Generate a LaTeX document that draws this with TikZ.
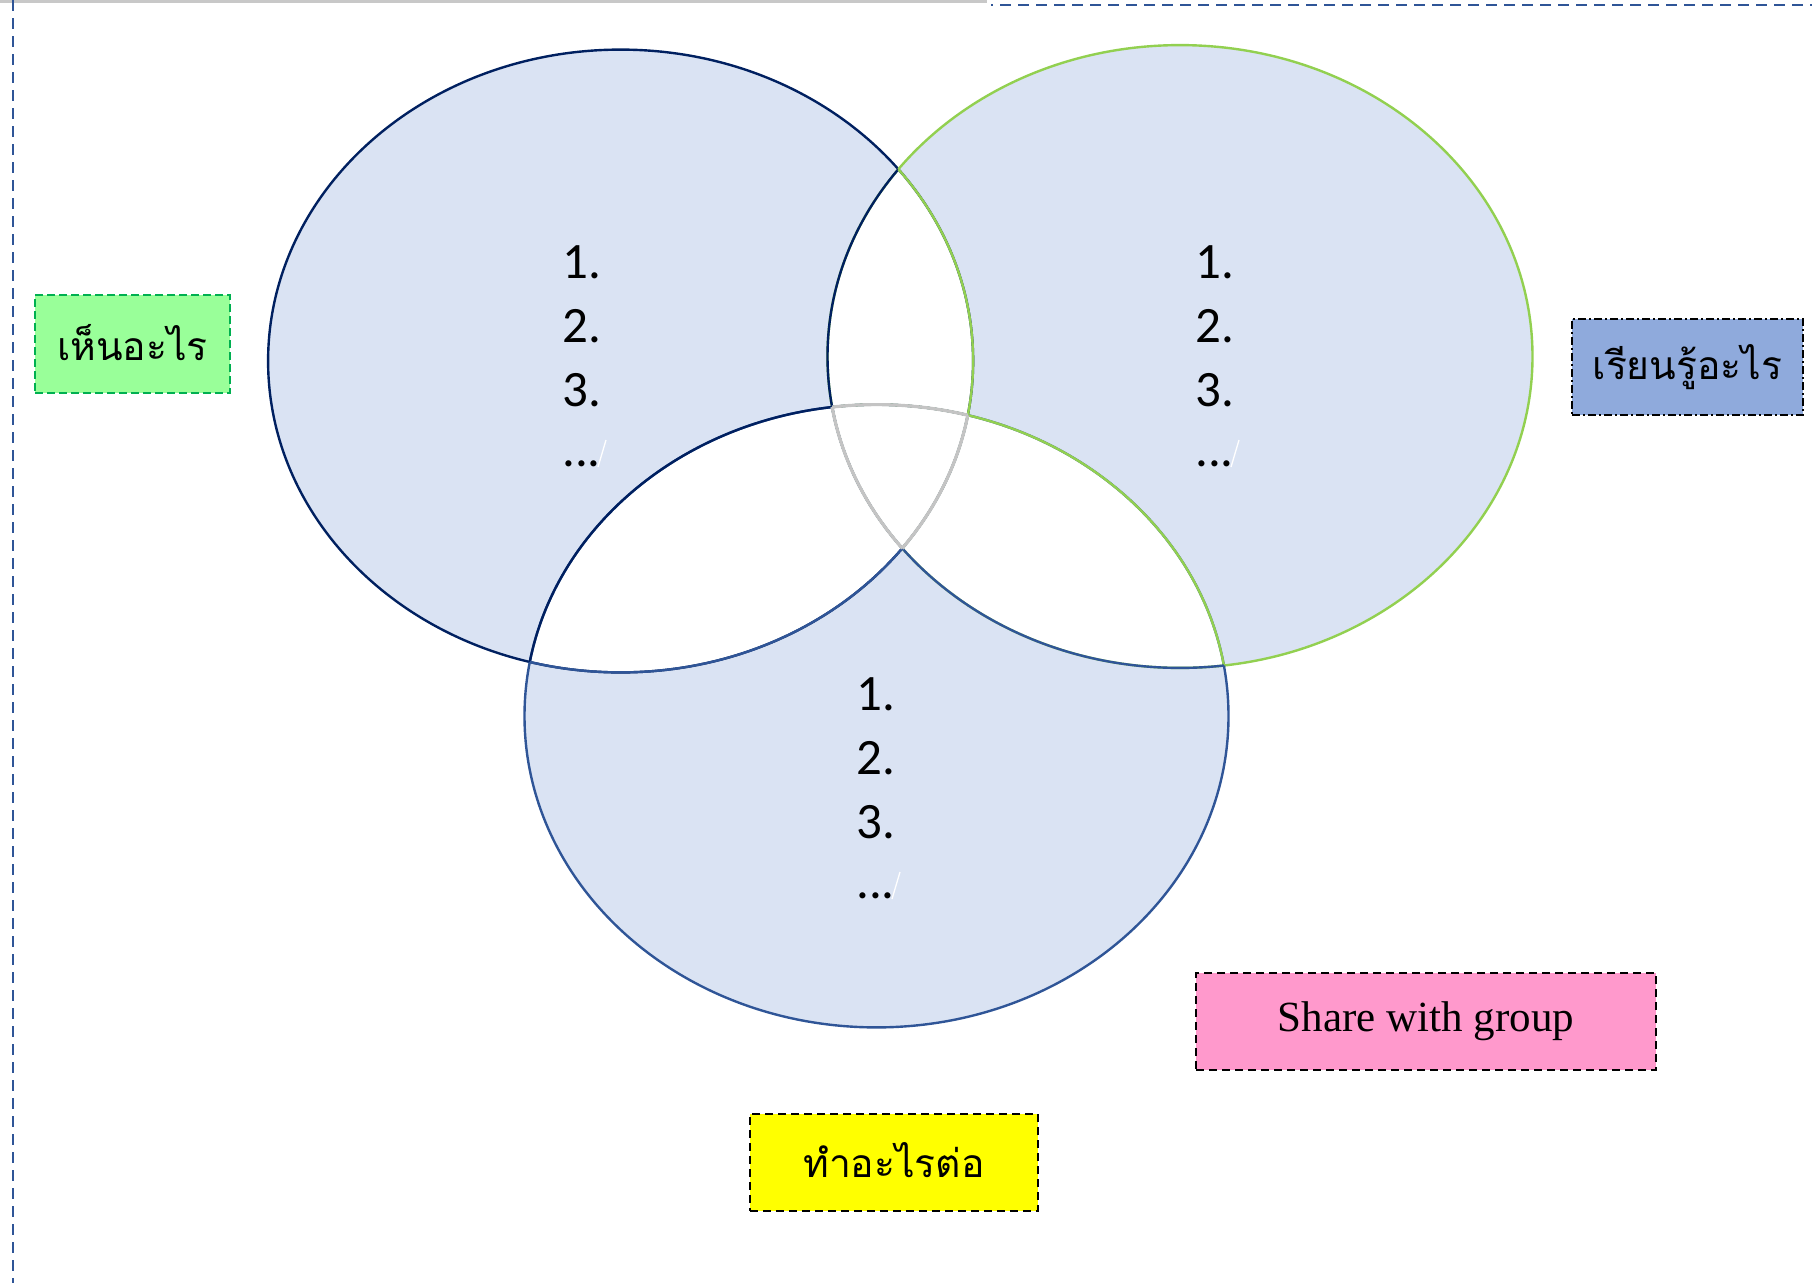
\documentclass[tikz,border=0pt]{standalone}
\usepackage{fontspec}
\newfontfamily\thaifont[Script=Thai]{Loma}
\newfontfamily\numfont{Carlito}
\newfontfamily\serifF{Liberation Serif}
\definecolor{fillc}{HTML}{DAE3F3}
\definecolor{navyc}{HTML}{002060}
\definecolor{bluec}{HTML}{2F5597}
\definecolor{greenc}{HTML}{92D050}
\definecolor{grayc}{HTML}{C4C4C4}
\definecolor{framec}{HTML}{2F5597}
\definecolor{topgray}{HTML}{C8C8C8}
\definecolor{gboxfill}{HTML}{99FF99}
\definecolor{gboxline}{HTML}{00B050}
\definecolor{bboxfill}{HTML}{8FAADC}
\definecolor{yboxfill}{HTML}{FFFF00}
\definecolor{pboxfill}{HTML}{FF99CC}
\def\EA{(620.6,361) ellipse [x radius=352.5pt, y radius=311.4pt]}
\def\EB{(1180,356.5) ellipse [x radius=352.5pt, y radius=311.4pt]}
\def\EC{(876.5,716) ellipse [x radius=352pt, y radius=311.4pt]}
\tikzset{
  ring/.style={line width=2.4pt},
  greyring/.style={line width=3.2pt, grayc},
  num/.style={font=\numfont\fontsize{51}{51}\selectfont, anchor=base west, inner sep=0pt},
  slash/.style={white, line width=1.3pt},
  labelbox/.style={inner sep=0pt, line width=2.6pt},
  thaitext/.style={font=\thaifont\fontsize{39}{39}\selectfont},
  gbox/.style={labelbox, thaitext, draw=gboxline, fill=gboxfill, dash pattern=on 8pt off 4pt,
    minimum width=195pt, minimum height=98pt},
  bbox/.style={labelbox, thaitext, draw=black, fill=bboxfill, dash pattern=on 8pt off 3pt on 2pt off 3pt,
    minimum width=231pt, minimum height=96pt},
  ybox/.style={labelbox, thaitext, draw=black, fill=yboxfill, dash pattern=on 8pt off 5pt,
    minimum width=288pt, minimum height=97pt},
  pbox/.style={labelbox, draw=black, fill=pboxfill, dash pattern=on 8pt off 5pt,
    minimum width=460pt, minimum height=97pt, font=\serifF\fontsize{43}{43}\selectfont},
}
\begin{document}
\begin{tikzpicture}[x=1pt,y=-1pt]
\useasboundingbox (0,0) rectangle (1812,1283);
% frame
\draw[topgray, line width=2.7pt] (0,1.3) -- (987,1.3);
\draw[framec, line width=2.3pt, dash pattern=on 11pt off 7pt] (13,0) -- (13,1283);
\draw[framec, line width=2.3pt, dash pattern=on 11pt off 7pt, dash phase=9pt] (991,5) -- (1812,5);
% fills
\fill[fillc] \EA;
\fill[fillc] \EB;
\fill[fillc] \EC;
\begin{scope}
  \clip \EA;
  \fill[white] \EB;
  \fill[white] \EC;
\end{scope}
\begin{scope}
  \clip \EB;
  \fill[white] \EC;
\end{scope}
% outlines, own colours
\draw[ring, navyc] \EA;
\draw[ring, greenc] \EB;
\draw[ring, bluec] \EC;
% arcs inside another ellipse take that ellipse's colour
\begin{scope}
  \clip \EA;
  \draw[ring, navyc] \EB;
  \draw[ring, navyc] \EC;
\end{scope}
\begin{scope}
  \clip \EB;
  \draw[ring, greenc] \EA;
  \draw[ring, greenc] \EC;
\end{scope}
\begin{scope}
  \clip \EC;
  \draw[ring, bluec] \EA;
  \draw[ring, bluec] \EB;
\end{scope}
% triple region outline in grey
\begin{scope}
  \clip \EA; \clip \EB;
  \draw[greyring] \EC;
\end{scope}
\begin{scope}
  \clip \EA; \clip \EC;
  \draw[greyring] \EB;
\end{scope}
\begin{scope}
  \clip \EB; \clip \EC;
  \draw[greyring] \EA;
\end{scope}
% list texts
\node[num] (a1) at (562,278) {1.};
\node[num] (a2) at (562,342.5) {2.};
\node[num] (a3) at (562,406) {3.};
\node[num] (a4) at (562,466) {...};
\coordinate (as1) at (598,467); \coordinate (as2) at (606,440);
\draw[slash] (as1) -- (as2);
\node[num] (b1) at (1195,278) {1.};
\node[num] (b2) at (1195,342.5) {2.};
\node[num] (b3) at (1195,406) {3.};
\node[num] (b4) at (1195,466) {...};
\coordinate (bs1) at (1231,467); \coordinate (bs2) at (1239,440);
\draw[slash] (bs1) -- (bs2);
\node[num] (c1) at (856,710) {1.};
\node[num] (c2) at (856,774.5) {2.};
\node[num] (c3) at (856,838) {3.};
\node[num] (c4) at (856,898) {...};
\coordinate (cs1) at (892,899); \coordinate (cs2) at (900,872);
\draw[slash] (cs1) -- (cs2);
% label boxes
\node[gbox] (see) at (132.5,344) {\raisebox{4pt}{เห็นอะไร}};
\node[bbox] (learn) at (1687.5,367) {\raisebox{1pt}{เรียนรู้อะไร}};
\node[ybox] (next) at (894,1162.5) {\raisebox{5pt}{ทำอะไรต่อ}};
\node[pbox] (share) at (1426,1021.5) {Share with group};
\end{tikzpicture}
\end{document}
